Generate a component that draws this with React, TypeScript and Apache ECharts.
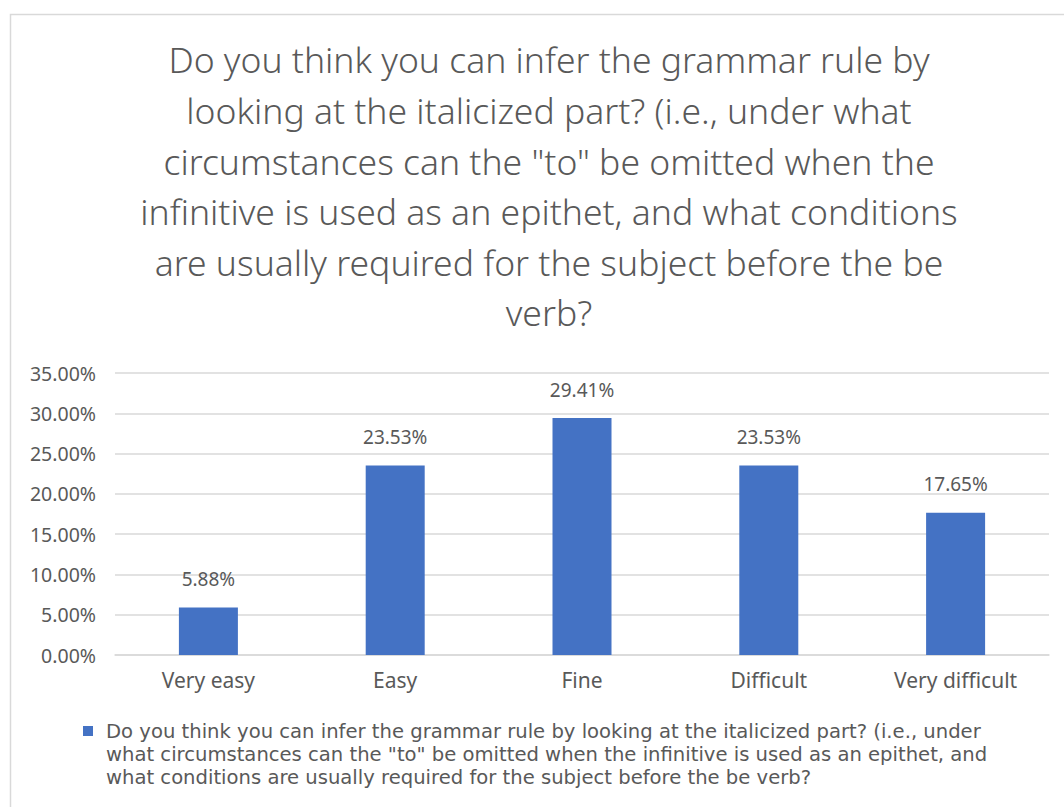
import React, { useEffect, useRef } from "react";
import * as echarts from "echarts";

const titleLines = [
  "Do you think you can infer the grammar rule by",
  "looking at the italicized part? (i.e., under what",
  'circumstances can the "to" be omitted when the',
  "infinitive is used as an epithet, and what conditions",
  "are usually required for the subject before the be",
  "verb?",
];
const seriesName =
  'Do you think you can infer the grammar rule by looking at the italicized part? (i.e., under what circumstances can the "to" be omitted when the infinitive is used as an epithet, and what conditions are usually required for the subject before the be verb?';
const legendLines = [
  "Do you think you can infer the grammar rule by looking at the italicized part? (i.e., under",
  'what circumstances can the "to" be omitted when the infinitive is used as an epithet, and',
  "what conditions are usually required for the subject before the be verb?",
];
const categories = ["Very easy", "Easy", "Fine", "Difficult", "Very difficult"];
const values = [5.88, 23.53, 29.41, 23.53, 17.65];
const yTicks = [0, 5, 10, 15, 20, 25, 30, 35];

const FONT = "'Noto Sans', 'DejaVu Sans', sans-serif";
const LEGEND_FAMILY = "'DejaVu Sans', sans-serif";
const GREY = "#595959";
const LEGEND_FONT = 19.6;
const LEGEND_LH = 23;

export default function App() {
  const ref = useRef<HTMLDivElement>(null);
  useEffect(() => {
    const chart = echarts.init(ref.current!, null, { renderer: "svg" });
    chart.setOption({
      animation: false,
      backgroundColor: "#fff",
      title: {
        text: titleLines.join("\n"),
        left: 544,
        top: 29,
        textAlign: "center",
        textStyle: {
          fontFamily: FONT,
          fontWeight: 300,
          fontSize: 35.5,
          lineHeight: 50.6,
          color: GREY,
        },
      },
      legend: {
        show: true,
        left: 83,
        top: 719.5,
        padding: 0,
        icon: "rect",
        itemWidth: 10,
        itemHeight: 10,
        formatter: () => legendLines[0],
        textStyle: {
          fontFamily: LEGEND_FAMILY,
          fontSize: LEGEND_FONT,
          lineHeight: LEGEND_LH,
          color: GREY,
          padding: [0, 0, 0, 8],
        },
      },
      grid: { left: 115, right: 15, top: 373, bottom: 152, containLabel: false },
      xAxis: {
        type: "category",
        data: categories,
        axisLine: { lineStyle: { color: "#D9D9D9", width: 1.5 } },
        axisTick: { show: false },
        axisLabel: {
          fontFamily: FONT,
          fontSize: 21,
          color: GREY,
          margin: 14,
        },
      },
      yAxis: {
        type: "value",
        min: yTicks[0],
        max: yTicks[yTicks.length - 1],
        interval: 5,
        axisLine: { show: false },
        axisTick: { show: false },
        splitLine: { lineStyle: { color: "#D9D9D9", width: 1.5 } },
        axisLabel: {
          fontFamily: FONT,
          fontSize: 19.5,
          color: GREY,
          margin: 19,
          formatter: (v: number) => v.toFixed(2) + "%",
        },
      },
      series: [
        {
          name: seriesName,
          type: "bar",
          data: values,
          barWidth: 59,
          itemStyle: { color: "#4472C4" },
          label: {
            show: true,
            position: "top",
            distance: 19,
            fontFamily: FONT,
            fontSize: 19,
            color: GREY,
            formatter: (p: any) => p.value.toFixed(2) + "%",
          },
        },
      ],
      graphic: [
        {
          type: "rect",
          shape: { x: 10.5, y: 14.5, width: 1200, height: 1000 },
          style: { fill: "none", stroke: "#D9D9D9", lineWidth: 1.5 },
          silent: true,
          z: -1,
        },
        {
          type: "text",
          x: 106,
          y: 731 + LEGEND_LH / 2,
          silent: true,
          style: {
            text: legendLines.slice(1).join("\n"),
            fontFamily: LEGEND_FAMILY,
            fontSize: LEGEND_FONT,
            lineHeight: LEGEND_LH,
            fill: GREY,
            align: "left",
            verticalAlign: "top",
          },
        },
      ],
    });
    return () => chart.dispose();
  }, []);
  return (
    <div
      ref={ref}
      style={{ position: "absolute", left: 0, top: 0, width: 1064, height: 807 }}
    />
  );
}
